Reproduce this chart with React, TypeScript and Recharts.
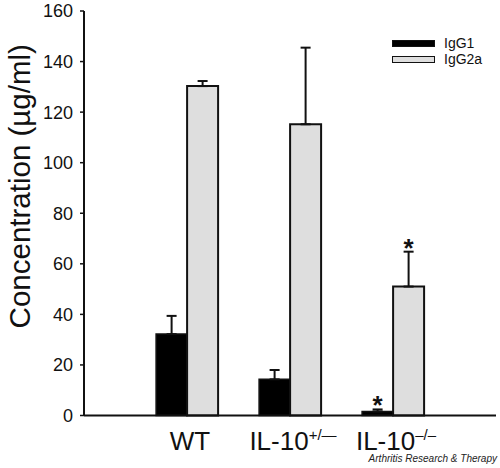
import React from 'react';
import { BarChart, Bar, XAxis, YAxis, ErrorBar, Legend, LabelList } from 'recharts';

const groups = ['WT', 'IL-10', 'IL-10'];
const groupSup = ['', '+/—', '–/–'];
const igg1 = [32.2, 14.3, 1.6];
const igg1Err = [7.2, 3.7, 0.8];
const igg1Sig = [false, false, true];
const igg2a = [130.3, 115.2, 51.0];
const igg2aErr = [2.0, 30.3, 13.8];
const igg2aSig = [false, false, true];
const yTicks = [0, 20, 40, 60, 80, 100, 120, 140, 160];

const FONT = '"Liberation Sans", Arial, Helvetica, sans-serif';

const data = groups.map((g, i) => ({
  name: g + groupSup[i],
  IgG1: igg1[i],
  IgG1Err: [0, igg1Err[i]],
  IgG1Sig: igg1Sig[i] ? '*' : '',
  IgG2a: igg2a[i],
  IgG2aErr: [0, igg2aErr[i]],
  IgG2aSig: igg2aSig[i] ? '*' : '',
}));

const XTick = (props: any) => {
  const { x, y, payload } = props;
  const i = payload.index;
  return (
    <text x={x + 3} y={y} dy={26} textAnchor="middle" fontFamily={FONT} fontSize={26} fill="#111">
      {groups[i]}
      {groupSup[i] ? (
        <tspan fontSize={15} dy={-10}>
          {groupSup[i]}
        </tspan>
      ) : null}
    </text>
  );
};

const makeStar = (vals: number[], errs: number[]) => (props: any) => {
  const { x, y, width, height, value, index } = props;
  if (!value) return null;
  const v = vals[index];
  const pxPerUnit = v ? Math.abs(height) / v : 0;
  const capY = y - errs[index] * pxPerUnit;
  return (
    <text x={x + width / 2} y={capY + 5} textAnchor="middle" fontFamily={FONT} fontWeight="bold" fontSize={26} fill="#111">
      {value}
    </text>
  );
};

const YLabel = (props: any) => {
  const vb = props.viewBox || { x: 0, y: 0, width: 0, height: 0 };
  const cx = vb.x + 19;
  const cy = vb.y + vb.height / 2 - 27;
  return (
    <text
      x={cx}
      y={cy}
      transform={`rotate(-90, ${cx}, ${cy})`}
      textAnchor="middle"
      dominantBaseline="central"
      fontFamily={FONT}
      fontSize={29.5}
      fill="#111"
    >
      Concentration (µg/ml)
    </text>
  );
};

const LegendContent = (props: any) => {
  const { payload } = props;
  return (
    <div style={{ fontFamily: FONT, fontSize: 14 }}>
      {(payload || []).map((p: any) => (
        <div key={p.value} style={{ position: 'relative', height: 15.6, width: 110 }}>
          <div
            style={{
              position: 'absolute',
              left: 0,
              top: 4,
              width: 41,
              height: 5,
              background: p.payload?.fill ?? p.color,
              border: '1.5px solid #111',
            }}
          />
          <div style={{ position: 'absolute', left: 52, top: 0, fontSize: 14, lineHeight: '15px', color: '#111', whiteSpace: 'nowrap' }}>
            {p.value}
          </div>
        </div>
      ))}
    </div>
  );
};

export default function App() {
  return (
    <div style={{ position: 'absolute', left: 0, top: 0, width: 500, height: 468, background: '#fff' }}>
      <BarChart
        width={500}
        height={468}
        data={data}
        margin={{ top: 11, right: 4, left: 0, bottom: 12.5 }}
        barCategoryGap="20%"
        barGap={0}
      >
        <XAxis
          xAxisId="b"
          dataKey="name"
          height={40}
          padding={{ left: 51.5, right: 51.5 }}
          axisLine={{ stroke: '#111', strokeWidth: 2 }}
          tickLine={false}
          tick={<XTick />}
          interval={0}
        />
        <XAxis xAxisId="t" orientation="top" dataKey="name" height={0} tick={false} tickLine={false} axisLine={{ stroke: '#333', strokeWidth: 1.5 }} />
        <YAxis
          yAxisId="l"
          width={84}
          domain={[0, 160]}
          ticks={yTicks}
          interval={0}
          tickSize={4}
          tickMargin={7}
          axisLine={{ stroke: '#111', strokeWidth: 2 }}
          tickLine={{ stroke: '#111', strokeWidth: 1.5 }}
          tick={{ fill: '#111', fontSize: 18, fontFamily: FONT }}
          label={<YLabel />}
        />
        <YAxis yAxisId="r" orientation="right" width={0} domain={[0, 160]} tick={false} tickLine={false} axisLine={{ stroke: '#333', strokeWidth: 1.5 }} />
        <Legend
          layout="horizontal"
          verticalAlign="middle"
          align="center"
          content={<LegendContent />}
          wrapperStyle={{ top: 36, left: 392, width: 110, right: 'auto', bottom: 'auto' }}
        />
        <Bar dataKey="IgG1" name="IgG1" xAxisId="b" yAxisId="l" fill="#000" stroke="#111" strokeWidth={1.5} isAnimationActive={false}>
          <ErrorBar dataKey="IgG1Err" width={5} stroke="#111" strokeWidth={2} direction="y" />
          <LabelList dataKey="IgG1Sig" content={makeStar(igg1, igg1Err)} />
        </Bar>
        <Bar dataKey="IgG2a" name="IgG2a" xAxisId="b" yAxisId="l" fill="#dedede" stroke="#111" strokeWidth={2} isAnimationActive={false}>
          <ErrorBar dataKey="IgG2aErr" width={5} stroke="#111" strokeWidth={2} direction="y" />
          <LabelList dataKey="IgG2aSig" content={makeStar(igg2a, igg2aErr)} />
        </Bar>
      </BarChart>
      <div
        style={{
          position: 'absolute',
          right: 3,
          top: 453,
          fontFamily: FONT,
          fontStyle: 'italic',
          fontSize: 10,
          color: '#222',
          lineHeight: '12px',
          whiteSpace: 'nowrap',
        }}
      >
        Arthritis Research &amp; Therapy
      </div>
    </div>
  );
}
